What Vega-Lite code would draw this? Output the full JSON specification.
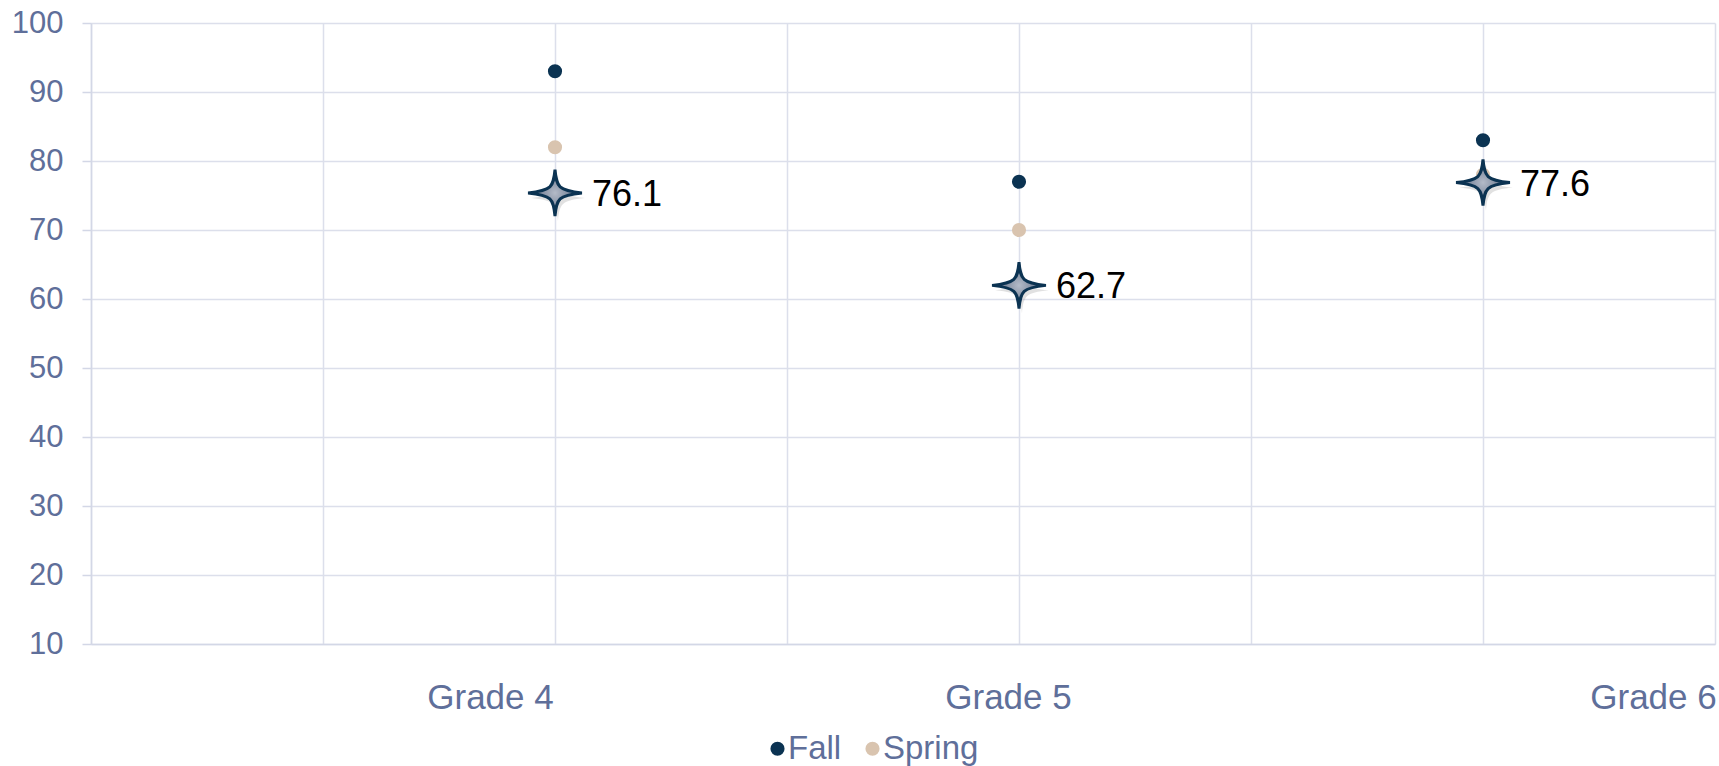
{
  "$schema": "https://vega.github.io/schema/vega-lite/v6.json",
  "width": 1624,
  "height": 621,
  "autosize": {"type": "none"},
  "padding": {"left": 91, "top": 23, "right": 4, "bottom": 122},
  "background": "white",
  "config": {
    "view": {"stroke": null},
    "font": "Liberation Sans",
    "axis": {"labelFont": "Liberation Sans", "labelColor": "#5f6f9a", "gridColor": "#dcdfeb", "gridWidth": 1.5, "domainColor": "#d3d7e6", "domainWidth": 1.5, "tickColor": "#d3d7e6", "tickWidth": 1.5, "title": null}
  },
  "datasets": {
    "scores": [
      {"grade": 4, "season": "Fall", "score": 93},
      {"grade": 4, "season": "Spring", "score": 82},
      {"grade": 5, "season": "Fall", "score": 77},
      {"grade": 5, "season": "Spring", "score": 70},
      {"grade": 6, "season": "Fall", "score": 83},
      {"grade": 6, "season": "Spring", "score": 78}
    ],
    "avg": [
      {"grade": 4, "value": 76.1},
      {"grade": 5, "value": 62.7},
      {"grade": 6, "value": 77.6}
    ]
  },
  "layer": [
    {
      "data": {"name": "scores"},
      "mark": {"type": "point", "filled": true, "opacity": 1, "size": 200},
      "encoding": {
        "x": {
          "field": "grade", "type": "quantitative",
          "scale": {"domain": [3, 6.5], "nice": false, "zero": false},
          "axis": {
            "values": [3, 3.5, 4, 4.5, 5, 5.5, 6, 6.5],
            "labelExpr": "datum.value == 4 || datum.value == 5 || datum.value == 6 ? 'Grade ' + datum.value : ''",
            "labelFontSize": 35,
            "labelPadding": 36,
            "ticks": false,
            "labelOverlap": false,
            "labelBound": false,
            "labelFlush": false,
            "labelOffset": {"condition": [{"test": "datum.value == 4", "value": -65}, {"test": "datum.value == 5", "value": -11}], "value": 170},
            "grid": true
          }
        },
        "y": {
          "field": "score", "type": "quantitative",
          "scale": {"domain": [10, 100], "nice": false, "zero": false},
          "axis": {
            "values": [10, 20, 30, 40, 50, 60, 70, 80, 90, 100],
            "labelFontSize": 31,
            "tickSize": 9,
            "labelPadding": 19,
            "grid": true
          }
        },
        "color": {
          "field": "season", "type": "nominal",
          "scale": {"domain": ["Fall", "Spring"], "range": ["#0b3352", "#d9c4af"]},
          "legend": {
            "title": null,
            "orient": "none",
            "direction": "horizontal",
            "legendX": 670,
            "legendY": 709,
            "labelFontSize": 33,
            "labelColor": "#5f6f9a",
            "labelFont": "Liberation Sans",
            "symbolType": "circle",
            "symbolSize": 200,
            "symbolStrokeWidth": 0,
            "columnPadding": 14,
            "labelOffset": -6
          }
        }
      }
    },
    {
      "data": {"name": "avg"},
      "mark": {"type": "point", "filled": true, "shape": "M0,-0.86 C0.06,-0.22 0.12,-0.09 1,0 C0.12,0.09 0.06,0.22 0,0.86 C-0.06,0.22 -0.12,0.09 -1,0 C-0.12,-0.09 -0.06,-0.22 0,-0.86 Z", "size": 2900, "color": "#777777", "opacity": 0.22, "xOffset": 3, "yOffset": 10},
      "encoding": {
        "x": {"field": "grade", "type": "quantitative"},
        "y": {"field": "value", "type": "quantitative"}
      }
    },
    {
      "data": {"name": "avg"},
      "mark": {"type": "point", "filled": true, "shape": "M0,-0.86 C0.06,-0.22 0.12,-0.09 1,0 C0.12,0.09 0.06,0.22 0,0.86 C-0.06,0.22 -0.12,0.09 -1,0 C-0.12,-0.09 -0.06,-0.22 0,-0.86 Z", "size": 2900, "opacity": 1, "yOffset": 5,
        "fill": {"gradient": "radial", "x1": 0.5, "y1": 0.5, "x2": 0.5, "y2": 0.5, "r1": 0, "r2": 0.5, "stops": [{"offset": 0, "color": "#b4bbc8"}, {"offset": 1, "color": "#4e5e78"}]},
        "stroke": "#0b3352", "strokeWidth": 3},
      "encoding": {
        "x": {"field": "grade", "type": "quantitative"},
        "y": {"field": "value", "type": "quantitative"}
      }
    },
    {
      "data": {"name": "avg"},
      "mark": {"type": "text", "align": "left", "baseline": "middle", "dx": 37, "dy": 7, "fontSize": 36, "color": "#000000", "font": "Liberation Sans"},
      "encoding": {
        "x": {"field": "grade", "type": "quantitative"},
        "y": {"field": "value", "type": "quantitative"},
        "text": {"field": "value", "type": "quantitative", "format": ".1f"}
      }
    }
  ]
}
